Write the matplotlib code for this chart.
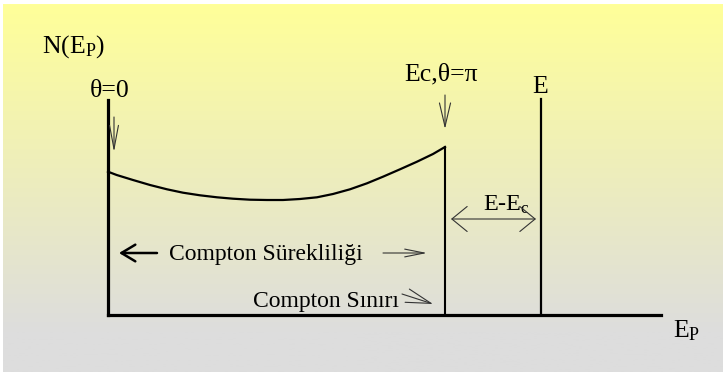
import numpy as np
import matplotlib
matplotlib.use("Agg")
import matplotlib.pyplot as plt

plt.rcParams['font.family'] = ['Liberation Serif', 'DejaVu Serif']
plt.rcParams['mathtext.fontset'] = 'custom'
plt.rcParams['mathtext.rm'] = 'Liberation Serif'
plt.rcParams['mathtext.it'] = 'Liberation Serif'

# compton continuum (energy, counts)
curve_e = [0, 8.7, 25, 42, 59, 75, 92, 109, 125, 142, 159, 175, 192, 209,
           225, 242, 259, 275, 292, 309, 325, 337]
curve_n = [143.3, 140, 135, 130, 125.7, 122.3, 119.7, 117.7, 116.3, 115.3, 115,
           115, 116, 117.7, 121, 125.7, 131.7, 138.3, 145.7, 153.3, 161, 168]
compton_edge = 337
edge_height = 168
photo_peak = 433
peak_height = 216
axis_top = 215
axis_right = 553

fig = plt.figure(figsize=(7.23, 3.72), dpi=100)
ax = fig.add_axes([0, 0, 1, 1])
ax.set_xlim(-108, 615)
ax.set_ylim(-57, 315)
ax.axis('off')

# background gradient: yellow on top going to gray
top = np.array([255, 255, 153]) / 255.0
bot = np.array([221, 221, 221]) / 255.0
t = np.clip(np.linspace(0, 1.12, 300), 0, 1)[:, None]
grad = top * (1 - t) + bot * t
ax.imshow(grad[:, None, :], extent=(-105, 615, -57, 311), aspect='auto',
          zorder=0, interpolation='bilinear')

k = 'black'
ax.plot([0, 0], [0, axis_top], color=k, lw=2.3, solid_capstyle='projecting', zorder=3)
ax.plot([0, axis_right], [0, 0], color=k, lw=2.3, solid_capstyle='projecting', zorder=3)
ax.plot(curve_e, curve_n, color=k, lw=1.6, solid_joinstyle='round', zorder=3)
ax.plot([compton_edge, compton_edge], [0, edge_height], color=k, lw=1.5, zorder=3)
ax.plot([photo_peak, photo_peak], [0, peak_height], color=k, lw=1.6, zorder=3)

def arrow(x0, y0, x1, y1, style, lw=0.8, color='#333333', ms=20):
    ax.annotate('', xy=(x1, y1), xytext=(x0, y0),
                arrowprops=dict(arrowstyle=style, lw=lw, color=color,
                                mutation_scale=ms, shrinkA=0, shrinkB=0), zorder=4)

arrow(6, 198, 6, 163, '->,head_length=0.85,head_width=0.16')
arrow(337, 220, 337, 186, '->,head_length=0.85,head_width=0.2')
arrow(49, 62, 11, 62, '->,head_length=0.5,head_width=0.3', lw=1.8, color='black')
arrow(275, 62, 319, 62, '->,head_length=0.7,head_width=0.14')
arrow(294, 21, 325, 11, '->,head_length=0.9,head_width=0.25')
arrow(343, 96, 428, 96, '<->,head_length=0.55,head_width=0.45')

fs = 18.5
ax.text(-66, 262, r'N(E$_{\mathrm{P}}$)', fontsize=fs, va='baseline', ha='left')
ax.text(2, 218, 'θ=0', fontsize=fs, va='baseline', ha='center')
ax.text(296, 235, 'Ec,θ=π', fontsize=fs, va='baseline', ha='left')
ax.text(432, 222, 'E', fontsize=fs, va='baseline', ha='center')
ax.text(375, 104, r'E-E$_{\mathrm{c}}$', fontsize=17.5, va='baseline', ha='left')
ax.text(61, 55, 'Compton Sürekliliği', fontsize=17, va='baseline', ha='left')
ax.text(145, 8, 'Compton Sınırı', fontsize=17, va='baseline', ha='left')
ax.text(565, -22, r'E$_{\mathrm{P}}$', fontsize=fs, va='baseline', ha='left')

fig.savefig('out.png', dpi=100)
